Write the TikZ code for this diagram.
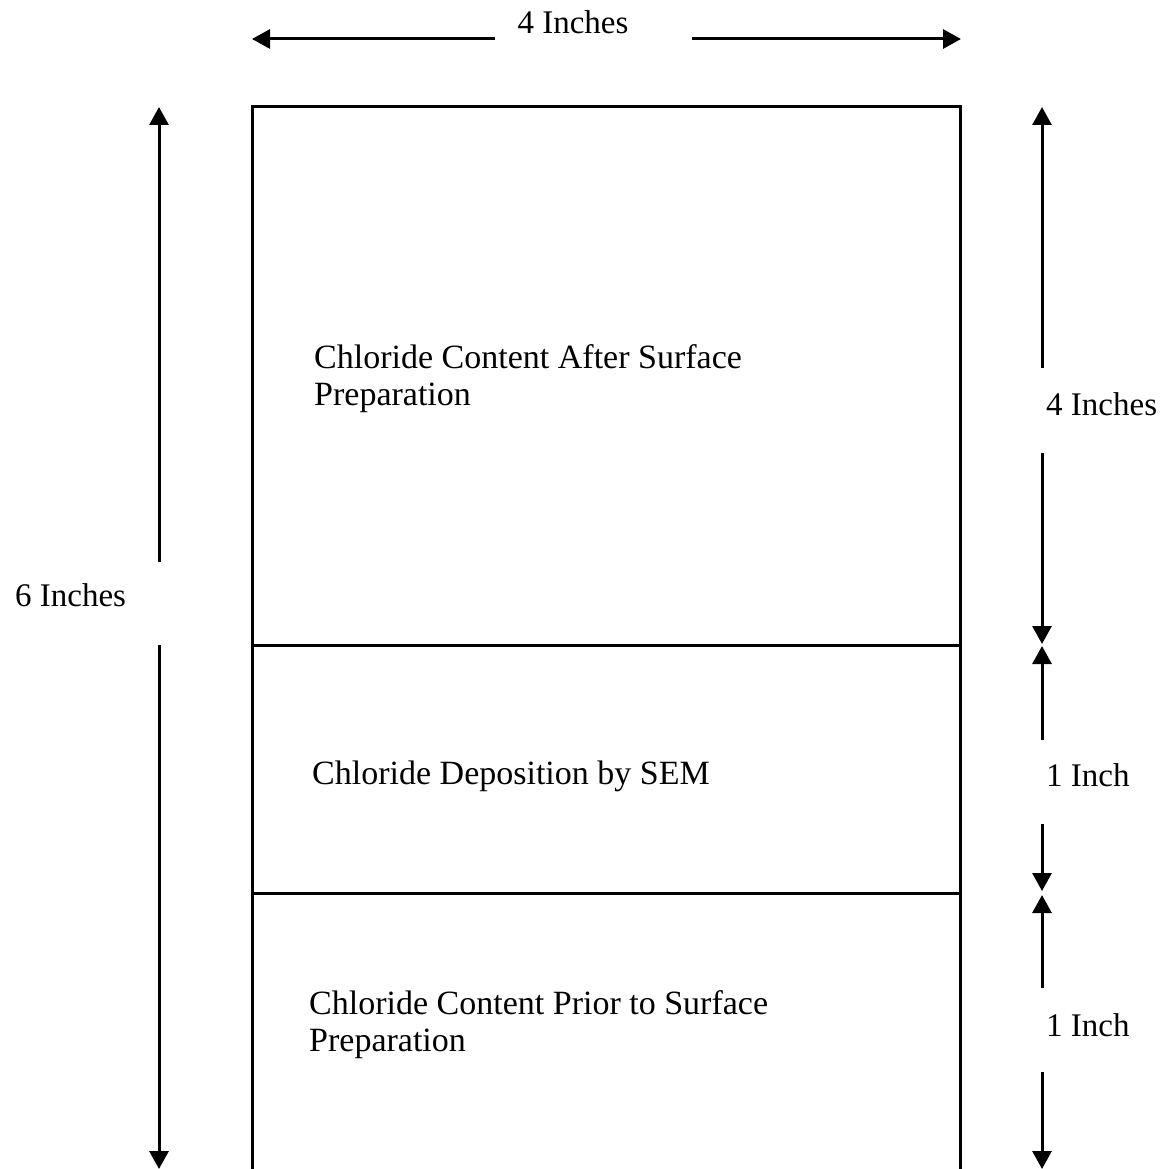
\documentclass[tikz,border=0pt]{standalone}
\usepackage{fontspec}
\setmainfont{Liberation Serif}
\usetikzlibrary{arrows.meta}
\begin{document}
\begin{tikzpicture}[x=1pt,y=-1pt,
  ln/.style={line width=3pt},
  arr/.style={line width=3pt,-{Triangle[width=19pt,length=18pt]}},
  lbl/.style={font=\fontsize{34}{37}\selectfont,inner sep=0pt},
  dim/.style={font=\fontsize{33}{37}\selectfont,inner sep=0pt}]
\useasboundingbox (0,0) rectangle (1163,1169);
% box
\coordinate (bl) at (252,1169);
\coordinate (br) at (960,1169);
\coordinate (tl) at (252,107);
\coordinate (tr) at (960,107);
\coordinate (m1l) at (252,645);
\coordinate (m1r) at (960,645);
\coordinate (m2l) at (252,893);
\coordinate (m2r) at (960,893);
\draw[ln] (bl) -- (tl) -- (tr) -- (br);
\draw[ln] (m1l) -- (m1r);
\draw[ln] (m2l) -- (m2r);
% section labels
\node[lbl,anchor=base west,align=left] (s1) at (314,405) {Chloride Content After Surface\\Preparation};
\node[lbl,anchor=base west] (s2) at (312,784) {Chloride Deposition by SEM};
\node[lbl,anchor=base west,align=left] (s3) at (309,1051) {Chloride Content Prior to Surface\\Preparation};
% top dimension
\node[dim] (w4) at (573,22) {4 Inches};
\coordinate (wa) at (495,39);
\coordinate (wat) at (252,39);
\coordinate (wb) at (692,39);
\coordinate (wbt) at (961,39);
\draw[arr] (wa) -- (wat);
\draw[arr] (wb) -- (wbt);
% left dimension
\node[dim,anchor=west] (h6) at (15,595) {6 Inches};
\coordinate (la) at (159,562);
\coordinate (lat) at (159,107);
\coordinate (lb) at (159,645);
\coordinate (lbt) at (159,1169);
\draw[arr] (la) -- (lat);
\draw[arr] (lb) -- (lbt);
% right dimensions
\node[dim,anchor=west] (r4) at (1046,404) {4 Inches};
\coordinate (r4a) at (1042,368);
\coordinate (r4at) at (1042,107);
\coordinate (r4b) at (1042,453);
\coordinate (r4bt) at (1042,644);
\draw[arr] (r4a) -- (r4at);
\draw[arr] (r4b) -- (r4bt);
\node[dim,anchor=west] (r1) at (1046,775) {1 Inch};
\coordinate (r1a) at (1042,740);
\coordinate (r1at) at (1042,646);
\coordinate (r1b) at (1042,824);
\coordinate (r1bt) at (1042,891);
\draw[arr] (r1a) -- (r1at);
\draw[arr] (r1b) -- (r1bt);
\node[dim,anchor=west] (r2) at (1046,1025) {1 Inch};
\coordinate (r2a) at (1042,988);
\coordinate (r2at) at (1042,895);
\coordinate (r2b) at (1042,1072);
\coordinate (r2bt) at (1042,1169);
\draw[arr] (r2a) -- (r2at);
\draw[arr] (r2b) -- (r2bt);
\end{tikzpicture}
\end{document}
